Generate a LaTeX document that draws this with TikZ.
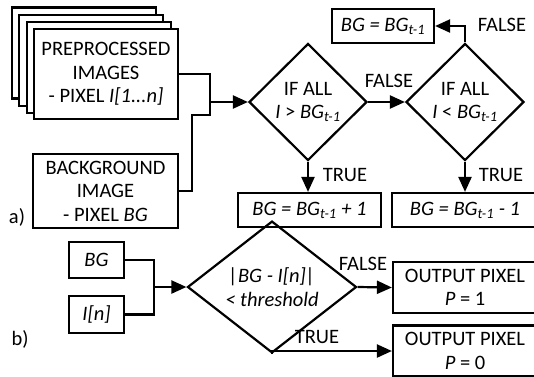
\documentclass[tikz,border=0pt]{standalone}
\usepackage{fontspec}
\setmainfont{Carlito}
\usetikzlibrary{shapes.geometric,arrows.meta}
\newcommand{\tsub}{\textsubscript{\textit{t-1}}}
\begin{document}
\begin{tikzpicture}[x=1pt,y=-1pt,
  font=\fontsize{20.5}{23.5}\selectfont,
  line width=2.2pt,
  box/.style={draw,fill=white,rectangle,inner sep=0pt,align=center},
  dia/.style={draw,diamond,inner sep=0pt,align=center},
  arr/.style={-{Triangle[length=15pt,width=13pt]}},
  lbl/.style={inner sep=0pt}]
\useasboundingbox (0,0) rectangle (534,376);
\clip (0,0) rectangle (534,376);
% a) stacked images
\node[box,minimum width=144pt,minimum height=91pt] (s1) at (84,53) {};
\node[box,minimum width=144pt,minimum height=91pt] (s2) at (91.3,60.3) {};
\node[box,minimum width=144pt,minimum height=91pt] (s3) at (98.6,67.6) {};
\node[box,minimum width=144pt,minimum height=90pt] (pre) at (106,74) {PREPROCESSED\\IMAGES\\- PIXEL \textit{I[1...n]}};
\node[box,minimum width=145pt,minimum height=74pt] (bgimg) at (105.5,191) {BACKGROUND\\IMAGE\\- PIXEL \textit{BG}};
\coordinate (j1) at (210,102);
\coordinate (ja) at (210,115);
\coordinate (jb) at (192,115);
\draw (pre.east) -| (ja) -- (jb) |- (bgimg.east);
\node[dia,minimum width=118pt,minimum height=117pt] (d1) at (308,102) {IF ALL\\\textit{I} > \textit{BG}\tsub};
\node[dia,minimum width=118pt,minimum height=117pt] (d2) at (465,102) {IF ALL\\\textit{I} < \textit{BG}\tsub};
\draw[arr] (j1) -- (d1.west);
\draw[arr] (d1.east) -- (d2.west);
\node[lbl] (f1) at (389,81) {FALSE};
\node[box,minimum width=102pt,minimum height=34pt] (bgt) at (383,26) {\textit{BG = BG}\tsub};
\draw[arr] (d2.north) |- (bgt.east);
\node[lbl] (f2) at (502,25) {FALSE};
\node[box,minimum width=143pt,minimum height=34pt] (p1) at (309.5,210) {\textit{BG = BG}\tsub\textit{ + 1}};
\node[box,minimum width=146pt,minimum height=34pt] (m1) at (465,210) {\textit{BG = BG}\tsub\textit{ - 1}};
\draw[arr] (d1.south) -- (d1.south |- p1.north);
\draw[arr] (d2.south) -- (d2.south |- m1.north);
\node[lbl] (t1) at (345,175) {TRUE};
\node[lbl] (t2) at (501,175) {TRUE};
\node[lbl] (la) at (17,217) {a)};
% b)
\node[box,minimum width=55pt,minimum height=36pt] (bg) at (96.5,260) {\textit{BG}};
\node[box,minimum width=55pt,minimum height=37pt] (in) at (96.5,314.5) {\textit{I[n]}};
\coordinate (j2) at (154,287);
\draw (bg.east) -| (j2) |- (in.east);
\node[dia,minimum width=169pt,minimum height=90pt] (d3) at (272,287) {\textit{|BG - I[n]|}\\\textit{< threshold}};
\draw[arr] (j2) -- (d3.west);
\node[box,minimum width=144pt,minimum height=51pt] (o1) at (465,287.5) {OUTPUT PIXEL\\\textit{P} = 1};
\node[box,minimum width=144pt,minimum height=51pt] (o0) at (465,351) {OUTPUT PIXEL\\\textit{P} = 0};
\draw[arr] (d3.east) -- (o1.west);
\draw[arr] (d3.south) |- (o0.west);
\node[lbl] (f3) at (363,264) {FALSE};
\node[lbl] (t3) at (317,337) {TRUE};
\node[lbl] (lb) at (20,339) {b)};
\end{tikzpicture}
\end{document}
